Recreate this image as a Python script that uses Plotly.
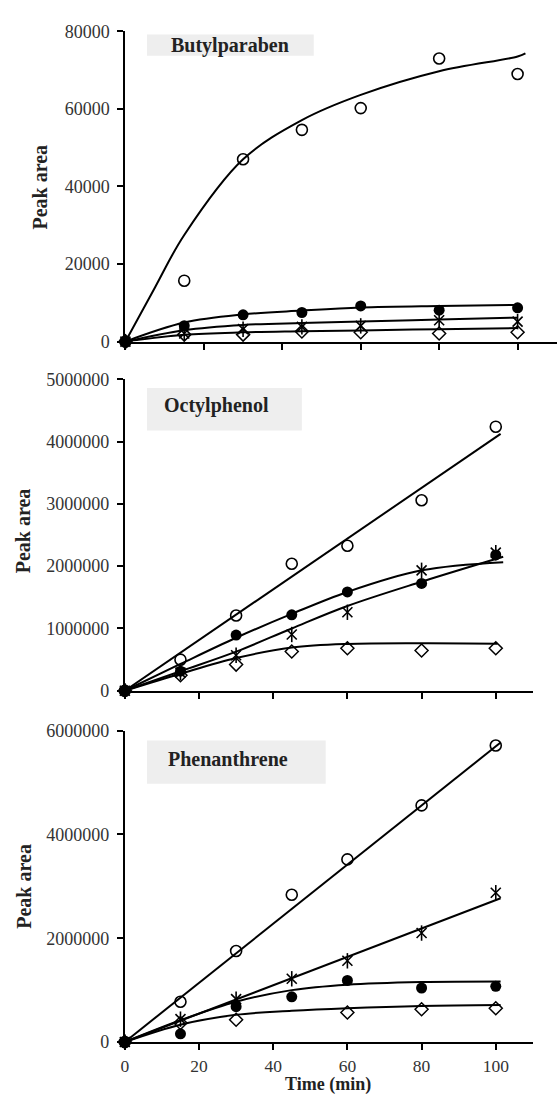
import plotly.graph_objects as go

W, H = 557, 1106
time = [0, 15, 30, 45, 60, 80, 100]

# ---------------- Butylparaben ----------------
bp_open = [0, 15700, 47000, 54600, 60200, 73000, 69000]
bp_filled = [0, 4100, 6900, 7500, 9200, 8100, 8700]
bp_star = [0, 2100, 3200, 3800, 4050, 5500, 5150]
bp_diamond = [0, 1800, 1800, 2600, 2400, 2100, 2400]
bp_fit_open_t = [0, 7.5, 15, 30, 45, 60, 80, 100, 102]
bp_fit_open = [0, 13900, 27500, 47000, 57100, 63600, 69700, 73500, 74300]
bp_fit_t = [0, 15, 30, 45, 60, 80, 100]
bp_fit_filled = [0, 4900, 7000, 8000, 8800, 9200, 9450]
bp_fit_star = [0, 2950, 4300, 4800, 5160, 5700, 6180]
bp_fit_diamond = [0, 1750, 2380, 2650, 2880, 3200, 3500]

# ---------------- Octylphenol ----------------
op_open = [0, 499000, 1208000, 2038000, 2327000, 3057000, 4238000]
op_filled = [0, 315000, 893000, 1218000, 1586000, 1723000, 2180000]
op_star = [0, 290000, 570000, 903000, 1260000, 1933000, 2216000]
op_diamond = [0, 250000, 420000, 630000, 683000, 646000, 683000]
op_fit_open_t = [0, 101.3]
op_fit_open = [0, 4123000]
op_fit_t = [0, 15, 30, 45, 60, 80, 102]
op_fit_filled = [0, 430000, 851000, 1234000, 1586000, 1933000, 2064000]
op_fit_star = [0, 313000, 627000, 1000000, 1360000, 1750000, 2150000]
op_fit_diamond_t = [0, 15, 30, 45, 60, 80, 100.5]
op_fit_diamond = [0, 273000, 525000, 693000, 751000, 762000, 756000]

# ---------------- Phenanthrene ----------------
ph_open = [0, 776000, 1754000, 2839000, 3520000, 4561000, 5716000]
ph_filled = [0, 158000, 681000, 871000, 1186000, 1041000, 1073000]
ph_star = [0, 440000, 826000, 1218000, 1565000, 2100000, 2877000]
ph_diamond = [0, 365000, 430000, None, 568000, 631000, 650000]
ph_fit_lin_t = [0, 101.3]
ph_fit_open = [0, 5773000]
ph_fit_star = [0, 2770000]
ph_fit_t = [0, 15, 30, 45, 60, 80, 101.3]
ph_fit_filled = [0, 420000, 776000, 1000000, 1104000, 1155000, 1167000]
ph_fit_diamond = [0, 334000, 524000, 600000, 650000, 694000, 713000]

x_ticks = [0, 20, 40, 60, 80, 100]
bp_yticks = [0, 20000, 40000, 60000, 80000]
op_yticks = [0, 1000000, 2000000, 3000000, 4000000, 5000000]
ph_yticks = [0, 2000000, 4000000, 6000000]

titles = ["Butylparaben", "Octylphenol", "Phenanthrene"]

FONT = "Liberation Serif"
fig = go.Figure()


def add_fit(t, v, xa, ya, spline=True):
    fig.add_trace(go.Scatter(
        x=t, y=v, mode="lines", xaxis=xa, yaxis=ya,
        line=dict(color="black", width=2, shape="spline" if spline else "linear", smoothing=1.0),
        showlegend=False, hoverinfo="skip", cliponaxis=False))


def add_pts(v, xa, ya, kind):
    common = dict(x=time, y=v, mode="markers", xaxis=xa, yaxis=ya,
                  showlegend=False, cliponaxis=False)
    if kind == "diamond":
        fig.add_trace(go.Scatter(**common, marker=dict(symbol="diamond-open", size=10,
                                                       color="black", line=dict(width=1.5, color="black"))))
    elif kind == "star":
        fig.add_trace(go.Scatter(**common, marker=dict(symbol="x-thin-open", size=10,
                                                       color="black", line=dict(width=1.6, color="black"))))
        fig.add_trace(go.Scatter(**common, marker=dict(symbol="line-ns-open", size=11,
                                                       color="black", line=dict(width=1.6, color="black"))))
    elif kind == "filled":
        fig.add_trace(go.Scatter(**common, marker=dict(symbol="circle", size=11, color="black",
                                                       line=dict(width=0))))
    else:
        fig.add_trace(go.Scatter(**common, marker=dict(symbol="circle-open", size=11,
                                                       color="black", line=dict(width=1.6, color="black"))))


# panel 1
add_fit(bp_fit_open_t, bp_fit_open, "x", "y")
add_fit(bp_fit_t, bp_fit_filled, "x", "y")
add_fit(bp_fit_t, bp_fit_star, "x", "y")
add_fit(bp_fit_t, bp_fit_diamond, "x", "y")
add_pts(bp_diamond, "x", "y", "diamond")
add_pts(bp_star, "x", "y", "star")
add_pts(bp_open, "x", "y", "open")
add_pts(bp_filled, "x", "y", "filled")

# panel 2
add_fit(op_fit_open_t, op_fit_open, "x2", "y2", spline=False)
add_fit(op_fit_t, op_fit_filled, "x2", "y2")
add_fit(op_fit_t, op_fit_star, "x2", "y2")
add_fit(op_fit_diamond_t, op_fit_diamond, "x2", "y2")
add_pts(op_diamond, "x2", "y2", "diamond")
add_pts(op_star, "x2", "y2", "star")
add_pts(op_open, "x2", "y2", "open")
add_pts(op_filled, "x2", "y2", "filled")

# panel 3
add_fit(ph_fit_lin_t, ph_fit_open, "x3", "y3", spline=False)
add_fit(ph_fit_lin_t, ph_fit_star, "x3", "y3", spline=False)
add_fit(ph_fit_t, ph_fit_filled, "x3", "y3")
add_fit(ph_fit_t, ph_fit_diamond, "x3", "y3")
add_pts(ph_diamond, "x3", "y3", "diamond")
add_pts(ph_star, "x3", "y3", "star")
add_pts(ph_open, "x3", "y3", "open")
add_pts(ph_filled, "x3", "y3", "filled")


def px_x(p):
    return p / W


def px_y(p):
    return 1 - p / H


tick_font = dict(family=FONT, size=18, color="#333333")
axis_common = dict(showline=True, linecolor="black", linewidth=2, ticks="outside",
                   ticklen=6, tickwidth=1.5, tickcolor="black", showgrid=False,
                   zeroline=False, tickfont=tick_font, fixedrange=True)


def ax(**kw):
    d = dict(axis_common)
    d.update(kw)
    return d


fig.update_layout(
    width=W, height=H, margin=dict(l=0, r=0, t=0, b=0),
    paper_bgcolor="white", plot_bgcolor="white", showlegend=False,
    xaxis=ax(domain=[px_x(122.3), 1.0], range=[0, 110.05], anchor="y",
             tickvals=x_ticks, showticklabels=False),
    yaxis=ax(domain=[px_y(337.7), px_y(21.7)], range=[0, 80000], anchor="x",
             tickvals=bp_yticks, ticktext=[str(v) for v in bp_yticks], ticklabelstandoff=4),
    xaxis2=ax(domain=[px_x(121.7), px_x(532.7)], range=[0, 110], anchor="y2",
              tickvals=x_ticks, showticklabels=False),
    yaxis2=ax(domain=[px_y(693.3), px_y(376)], range=[0, 5000000], anchor="x2",
              tickvals=op_yticks, ticktext=[str(v) for v in op_yticks], ticklabelstandoff=4),
    xaxis3=ax(domain=[px_x(121.7), px_x(532.7)], range=[0, 110], anchor="y3",
              tickvals=x_ticks, ticktext=[str(v) for v in x_ticks], ticklabelstandoff=1,
              tickfont=dict(family=FONT, size=17.5, color="#333333")),
    yaxis3=ax(domain=[px_y(1051), px_y(734)], range=[0, 6000000], anchor="x3",
              tickvals=ph_yticks, ticktext=[str(v) for v in ph_yticks], ticklabelstandoff=4),
)

# title boxes
boxes = [(144, 25, 312, 46.7), (144, 385, 300, 428.3), (144, 744, 324, 788)]
for (x0, y0, x1, y1) in boxes:
    fig.add_shape(type="rect", xref="paper", yref="paper",
                  x0=px_x(x0), x1=px_x(x1), y0=px_y(y1), y1=px_y(y0),
                  fillcolor="#eeeeee", line=dict(width=0), layer="below")

title_pos = [(228, 36, "center"), (159, 403, "left"), (163, 763, "left")]
for (tx, ty, anc), txt in zip(title_pos, titles):
    fig.add_annotation(text=txt, xref="paper", yref="paper", x=px_x(tx), y=px_y(ty),
                       xanchor=anc, yanchor="middle", showarrow=False,
                       font=dict(family=FONT, size=20, color="#222222", weight="bold"))

# y-axis titles
for (tx, ty) in [(36, 180), (20, 530), (20, 892)]:
    fig.add_annotation(text="Peak area", xref="paper", yref="paper", x=px_x(tx), y=px_y(ty),
                       xanchor="center", yanchor="middle", showarrow=False, textangle=-90,
                       font=dict(family=FONT, size=20, color="#222222", weight="bold"))

# x-axis title
fig.add_annotation(text="Time (min)", xref="paper", yref="paper", x=px_x(326), y=px_y(1106),
                   xanchor="center", yanchor="bottom", showarrow=False, borderpad=0,
                   font=dict(family=FONT, size=18, color="#222222", weight="bold"))

fig.write_html("out.html")
